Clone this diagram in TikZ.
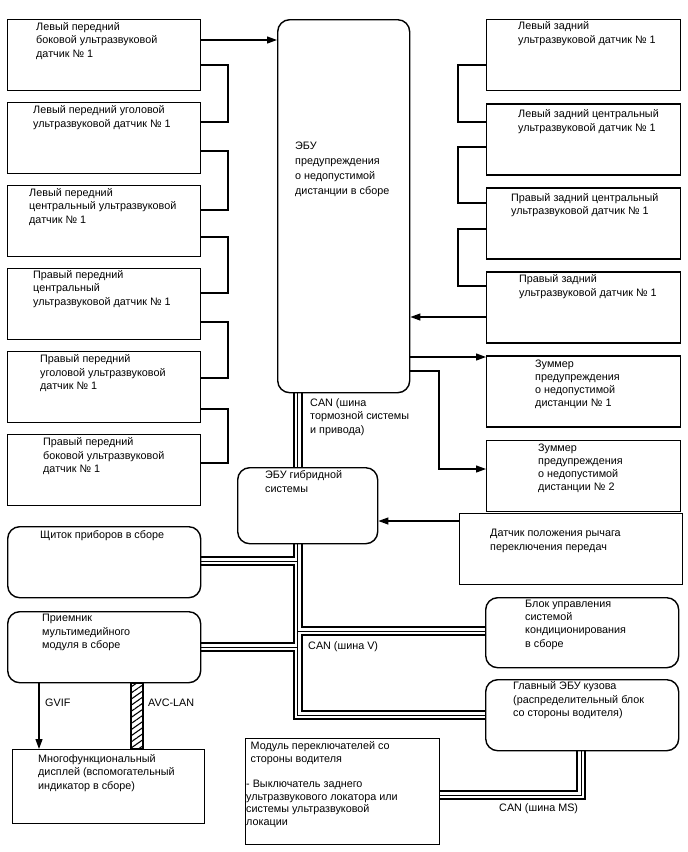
\documentclass[tikz,border=0pt]{standalone}
\usepackage{fontspec}
\setmainfont{Liberation Sans}
\usetikzlibrary{arrows.meta, positioning, calc, patterns.meta, backgrounds}

\begin{document}
\begin{tikzpicture}[x=1pt, y=-1pt, >={Triangle[length=10pt, width=7pt]},
    sbox/.style={draw, line width=1.4pt, minimum width=193pt, minimum height=71pt,
                 anchor=north west, inner sep=0pt},
    rbox/.style={sbox, rounded corners=12pt},
    txt/.style={anchor=north west, inner sep=0pt, align=left,
                font=\fontsize{10.8}{13.4}\selectfont},
    wire/.style={line width=1.2pt},
    canbus/.style={line width=1pt, preaction={draw, line width=10pt},
                   preaction={draw, white, line width=6pt}},
    avc/.style={draw, line width=1.2pt,
                pattern={Lines[angle=35, distance=5pt, line width=1.1pt]}}]
  \useasboundingbox (0,0) rectangle (688,852);

  % Front sensors (left column)
  \node[sbox] (l1) at (7,19) {};
  \node[sbox, below=10.6pt of l1] (l2) {};
  \node[sbox, below=10.6pt of l2] (l3) {};
  \node[sbox, below=10.6pt of l3] (l4) {};
  \node[sbox, below=10.6pt of l4] (l5) {};
  \node[sbox, below=10.6pt of l5] (l6) {};
  \node[txt] (l1t) at ($(l1.north west)+(29,3)$) {Левый передний\\боковой ультразвуковой\\датчик № 1};
  \node[txt] (l2t) at ($(l2.north west)+(26,3.4)$) {Левый передний уголовой\\ультразвуковой датчик № 1};
  \node[txt] (l3t) at ($(l3.north west)+(22,3.3)$) {Левый передний\\центральный ультразвуковой\\датчик № 1};
  \node[txt] (l4t) at ($(l4.north west)+(26,2.2)$) {Правый передний\\центральный\\ультразвуковой датчик № 1};
  \node[txt] (l5t) at ($(l5.north west)+(33,3.6)$) {Правый передний\\уголовой ультразвуковой\\датчик № 1};
  \node[txt] (l6t) at ($(l6.north west)+(36,3.5)$) {Правый передний\\боковой ультразвуковой\\датчик № 1};

  % Warning ECU
  \node[rbox, minimum width=132pt, minimum height=373pt] (ecu) at (277,19) {};
  \node[txt, font=\fontsize{10.8}{15}\selectfont] (ecut) at ($(ecu.north west)+(18,123)$)
    {ЭБУ\\предупреждения\\о недопустимой\\дистанции в сборе};

  % Rear sensors and buzzers (right column)
  \node[sbox, minimum width=194pt] (r1) at (486,19) {};
  \node[sbox, minimum width=194pt, below=11.7pt of r1] (r2) {};
  \node[sbox, minimum width=194pt, below=11.7pt of r2] (r3) {};
  \node[sbox, minimum width=194pt, below=11.7pt of r3] (r4) {};
  \node[sbox, minimum width=194pt, below=11.7pt of r4] (bz1) {};
  \node[sbox, minimum width=194pt, below=11.7pt of bz1] (bz2) {};
  \node[txt] (r1t) at ($(r1.north west)+(32,2.5)$) {Левый задний\\ультразвуковой датчик № 1};
  \node[txt] (r2t) at ($(r2.north west)+(32,6.3)$) {Левый задний центральный\\ультразвуковой датчик № 1};
  \node[txt] (r3t) at ($(r3.north west)+(25,6.1)$) {Правый задний центральный\\ультразвуковой датчик № 1};
  \node[txt] (r4t) at ($(r4.north west)+(33,3.4)$) {Правый задний\\ультразвуковой датчик № 1};
  \node[txt, font=\fontsize{10.8}{13}\selectfont] (bz1t) at ($(bz1.north west)+(49,4.2)$)
    {Зуммер\\предупреждения\\о недопустимой\\дистанции № 1};
  \node[txt, font=\fontsize{10.8}{13}\selectfont] (bz2t) at ($(bz2.north west)+(52,4.5)$)
    {Зуммер\\предупреждения\\о недопустимой\\дистанции № 2};

  % Lower blocks
  \node[rbox, minimum width=140pt, minimum height=76pt] (hyb) at (237,467) {};
  \node[txt] (hybt) at ($(hyb.north west)+(28,3.5)$) {ЭБУ гибридной\\системы};
  \node[sbox, minimum width=223pt] (gear) at (459,513) {};
  \node[txt] (geart) at ($(gear.north west)+(31,16)$) {Датчик положения рычага\\переключения передач};
  \node[rbox] (dash) at (7,526) {};
  \node[txt] (dasht) at ($(dash.north west)+(33,4.5)$) {Щиток приборов в сборе};
  \node[rbox] (rcv) at (7,611) {};
  \node[txt] (rcvt) at ($(rcv.north west)+(35,3)$) {Приемник\\мультимедийного\\модуля в сборе};
  \node[rbox, minimum height=70pt] (ac) at (485,597) {};
  \node[txt] (act) at ($(ac.north west)+(40,2.5)$) {Блок управления\\системой\\кондиционирования\\в сборе};
  \node[rbox] (body) at (485,679) {};
  \node[txt] (bodyt) at ($(body.north west)+(28,2.5)$) {Главный ЭБУ кузова\\(распределительный блок\\со стороны водителя)};
  \node[sbox, minimum width=194pt, minimum height=106pt] (sw) at (245,738) {};
  \node[txt, font=\fontsize{10.8}{12.8}\selectfont] (swt) at ($(sw.north west)+(1,3.5)$)
    {\hspace*{4.5pt}Модуль переключателей со\\\hspace*{4.5pt}стороны водителя\\[12pt]- Выключатель заднего\\ультразвукового локатора или\\системы ультразвуковой\\локации};
  \node[sbox, minimum width=192pt, minimum height=74pt] (mfd) at (12,749) {};
  \node[txt] (mfdt) at ($(mfd.north west)+(26,5)$) {Многофункциональный\\дисплей (вспомогательный\\индикатор в сборе)};

  % Bus labels
  \node[txt] (canbt) at ($(ecu.south west)+(33,5)$) {CAN (шина\\тормозной системы\\и привода)};
  \node[txt] (canvt) at (308,641.5) {CAN (шина V)};
  \node[txt] (canmst) at (499,803.5) {CAN (шина MS)};
  \node[txt] (gvift) at (45,698.5) {GVIF};
  \node[txt] (avct) at (148,698.5) {AVC-LAN};

  % Front sensor chain
  \draw[wire] (l1.east |- 0,65) -| (228,122) -- (l2.east |- 0,122);
  \draw[wire] (l2.east |- 0,151) -| (228,210) -- (l3.east |- 0,210);
  \draw[wire] (l3.east |- 0,237) -| (228,293) -- (l4.east |- 0,293);
  \draw[wire] (l4.east |- 0,322) -| (228,378) -- (l5.east |- 0,378);
  \draw[wire] (l5.east |- 0,409) -| (228,463) -- (l6.east |- 0,463);
  \draw[wire, ->] (l1.east |- 0,40) -- (ecu.west |- 0,40);

  % Rear sensor chain
  \draw[wire] (r1.west |- 0,65) -| (458,122) -- (r2.west |- 0,122);
  \draw[wire] (r2.west |- 0,147) -| (458,203) -- (r3.west |- 0,203);
  \draw[wire] (r3.west |- 0,229) -| (458,286) -- (r4.west |- 0,286);
  \draw[wire, ->] (r4.west |- 0,317) -- (ecu.east |- 0,317);

  % Buzzers
  \draw[wire, ->] (ecu.east |- 0,357) -- (bz1.west |- 0,357);
  \draw[wire, ->] (ecu.east |- 0,371) -| (439,469) -- (bz2.west |- 0,469);

  % Shift lever sensor
  \draw[wire, ->] (gear.west |- 0,521) -- (hyb.east |- 0,521);

  % Multimedia links
  \draw[wire, ->] (rcv.south -| 39,0) -- (mfd.north -| 39,0);
  \draw[avc] (rcv.south -| 131,0) rectangle (mfd.north -| 143,0);

  % CAN buses
  \begin{scope}[on background layer]
    \draw[canbus] (ecu.south -| 297.5,0) -- (hyb.north -| 297.5,0)
      (hyb.south -| 297.5,0) |- (body.west |- 0,715)
      (dash.east |- 0,561) -- (297.5,561)
      (rcv.east |- 0,647) -- (297.5,647)
      (297.5,631) -- (ac.west |- 0,631)
      (body.south -| 581,0) |- (sw.east |- 0,795);
  \end{scope}
\end{tikzpicture}
\end{document}
